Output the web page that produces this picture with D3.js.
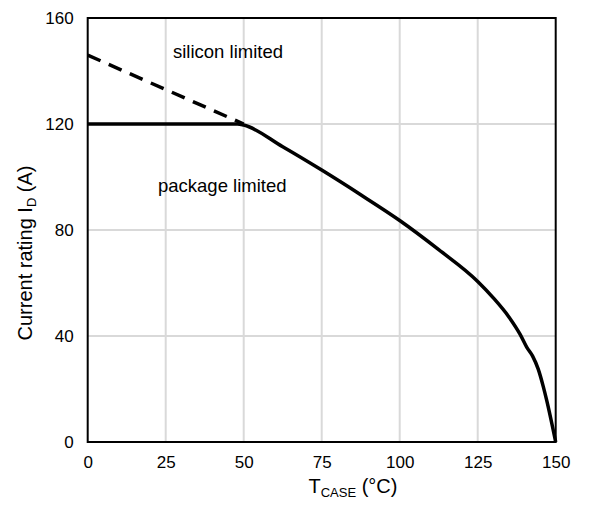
<!DOCTYPE html>
<html>
<head>
<meta charset="utf-8">
<script src="https://cdn.jsdelivr.net/npm/d3@7"></script>
<style>
  html, body { margin: 0; padding: 0; background: #fff; }
  svg text { font-family: "Liberation Sans", Arial, sans-serif; fill: #000; }
</style>
</head>
<body>
<svg id="chart" width="589" height="505"></svg>
<script>
// Case temperature (°C) vs. continuous drain current rating (A)
const packageTemp = [0, 48, 50, 62.5, 75, 87.5, 100, 112.5, 125, 130, 135, 138.6, 140.7, 142.6, 144.4, 146, 147.1, 150];
const packageCurrent = [120, 120, 119.6, 111.4, 102.6, 93.3, 83.6, 72.6, 60.6, 54.4, 47.2, 40.6, 35.8, 32.4, 27.5, 21, 15.8, 0];
const siliconTemp = [0, 50];
const siliconCurrent = [146, 120];

const xTicks = [0, 25, 50, 75, 100, 125, 150];
const yTicks = [0, 40, 80, 120, 160];

const svg = d3.select("#chart");
const plotLeft = 87.7, plotTop = 18, plotW = 468, plotH = 424;

const x = d3.scaleLinear().domain([0, 150]).range([plotLeft, plotLeft + plotW]);
const y = d3.scaleLinear().domain([0, 160]).range([plotTop + plotH, plotTop]);

// gridlines
const grid = svg.append("g");
grid.selectAll(".vx").data(xTicks.slice(1, -1)).join("line")
  .attr("x1", d => x(d)).attr("x2", d => x(d))
  .attr("y1", plotTop).attr("y2", plotTop + plotH)
  .attr("stroke", "#d9d9d9").attr("stroke-width", 2);
grid.selectAll(".hy").data(yTicks.slice(1, -1)).join("line")
  .attr("x1", plotLeft).attr("x2", plotLeft + plotW)
  .attr("y1", d => y(d)).attr("y2", d => y(d))
  .attr("stroke", "#d9d9d9").attr("stroke-width", 2);

// axes (labels only, frame drawn separately)
const xAxis = d3.axisBottom(x).tickValues(xTicks).tickSize(0).tickPadding(14);
const yAxis = d3.axisLeft(y).tickValues(yTicks).tickSize(0).tickPadding(14);
svg.append("g").attr("transform", `translate(0,${plotTop + plotH})`).call(xAxis)
  .call(g => g.select(".domain").remove())
  .selectAll("text").attr("font-size", 17).attr("font-family", "Liberation Sans, Arial, sans-serif");
svg.append("g").attr("transform", `translate(${plotLeft},0)`).call(yAxis)
  .call(g => g.select(".domain").remove())
  .selectAll("text").attr("font-size", 17).attr("font-family", "Liberation Sans, Arial, sans-serif");

// plot frame
svg.append("rect")
  .attr("x", plotLeft).attr("y", plotTop).attr("width", plotW).attr("height", plotH)
  .attr("fill", "none").attr("stroke", "#000").attr("stroke-width", 2);

const line = d3.line().x(d => x(d[0])).y(d => y(d[1]));
const smooth = d3.line().x(d => x(d[0])).y(d => y(d[1])).curve(d3.curveMonotoneX);

// silicon limit (dashed)
svg.append("path")
  .datum(d3.zip(siliconTemp, siliconCurrent))
  .attr("d", line)
  .attr("fill", "none").attr("stroke", "#000").attr("stroke-width", 3.5)
  .attr("stroke-dasharray", "14,9");

// package limit (solid)
svg.append("path")
  .datum(d3.zip(packageTemp, packageCurrent))
  .attr("d", smooth)
  .attr("fill", "none").attr("stroke", "#000").attr("stroke-width", 3.5)
  .attr("stroke-linejoin", "round");

// annotations
svg.append("text").attr("x", 173).attr("y", 58).attr("font-size", 18.5).text("silicon limited");
svg.append("text").attr("x", 158).attr("y", 192).attr("font-size", 18.5).text("package limited");

// axis titles
const xt = svg.append("text").attr("x", 353).attr("y", 493).attr("text-anchor", "middle").attr("font-size", 20);
xt.append("tspan").text("T");
xt.append("tspan").attr("font-size", 13).attr("dy", 4).text("CASE");
xt.append("tspan").attr("dy", -4).text(" (°C)");

const yt = svg.append("text")
  .attr("transform", "translate(32,253) rotate(-90)")
  .attr("text-anchor", "middle").attr("font-size", 20);
yt.append("tspan").text("Current rating I");
yt.append("tspan").attr("font-size", 13).attr("dy", 4).text("D");
yt.append("tspan").attr("dy", -4).text(" (A)");
</script>
</body>
</html>
